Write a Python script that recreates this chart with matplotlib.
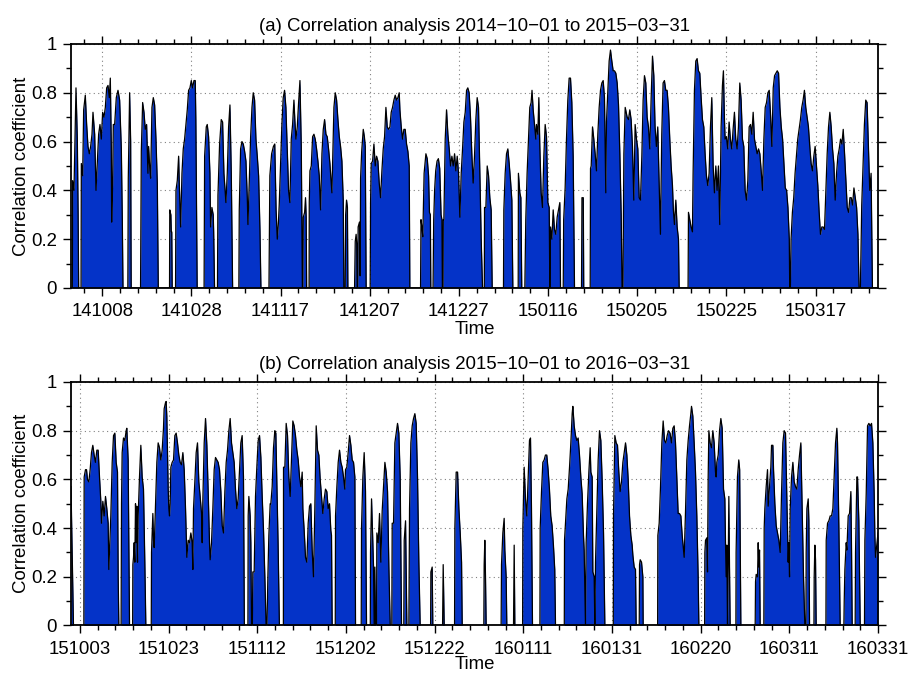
import datetime as dt

import matplotlib
matplotlib.use("Agg")
import matplotlib.pyplot as plt
from matplotlib.ticker import FixedLocator, MultipleLocator

plt.rcParams["font.family"] = ["Liberation Sans", "DejaVu Sans"]
plt.rcParams["font.size"] = 13.4
plt.rcParams["axes.titlesize"] = 13.4
plt.rcParams["axes.labelsize"] = 13.4

# ---------------------------------------------------------------------------
# Datos: días desde el inicio del periodo y coeficiente
# ---------------------------------------------------------------------------

START_A = dt.date(2014, 10, 1)
END_A = dt.date(2015, 3, 31)
START_B = dt.date(2015, 10, 1)
END_B = dt.date(2016, 3, 31)

TITLE_A = "(a) Correlation analysis 2014\u221210\u221201 to 2015\u221203\u221231"
TITLE_B = "(b) Correlation analysis 2015\u221210\u221201 to 2016\u221203\u221231"

DAYS_A = [
    0.0, 0.3, 0.37, 0.67, 1.12, 1.42, 1.6, 1.72, 2.25, 2.32, 2.62, 2.84, 3.21, 3.51, 3.81,
    4.11, 4.41, 4.71, 4.93, 5.31, 5.61, 5.9, 6.2, 6.5, 6.8, 7.1, 7.4, 7.7, 8.0, 8.3, 8.6,
    8.82, 9.04, 9.12, 9.34, 9.49, 9.79, 10.16, 10.54, 10.91, 11.29, 11.51, 11.66,
    12.75, 12.85, 13.15, 13.38, 13.5,
    15.6, 15.77, 16.07, 16.37, 16.66, 16.96, 17.26, 17.41, 17.64, 17.86, 18.16, 18.46,
    18.76, 19.06, 19.36, 19.58,
    22.1, 22.15, 22.4, 22.5, 22.6, 22.7,
    23.45, 23.54, 23.84, 24.14, 24.29, 24.59, 24.89, 25.18, 25.48, 25.78, 26.08, 26.38,
    26.68, 26.98, 27.28, 27.58, 27.87, 28.0, 28.3,
    29.85, 29.97, 30.34, 30.56, 30.86, 31.16, 31.31, 31.46, 31.6, 31.9, 32.0, 32.2,
    32.85, 32.96, 33.33, 33.7, 34.0, 34.3, 34.75, 35.05, 35.35, 35.65, 35.95, 36.25,
    37.65, 37.74, 38.04, 38.34, 38.64, 38.94, 39.24, 39.54, 39.69, 39.99, 40.29, 40.59,
    40.88, 41.18, 41.48, 41.78, 42.08, 42.38, 42.6,
    44.4, 44.6, 45.0, 45.4, 45.7, 46.0, 46.27, 46.5, 46.7, 47.0, 47.3, 47.6, 47.9, 48.2,
    48.5, 48.8, 49.1, 49.4, 49.7, 50.0, 50.2, 50.45, 50.75, 51.05, 51.35, 51.65, 51.9,
    52.0, 52.1, 52.4, 52.6, 52.75, 52.85,
    53.4, 53.44, 53.59, 53.89, 54.19, 54.49, 54.78, 55.08, 55.38, 55.68, 55.98, 56.28,
    56.58, 56.88, 57.18, 57.47, 57.77, 58.07, 58.37, 58.52, 58.67, 58.97, 59.27, 59.57,
    59.87, 60.17, 60.46, 60.76, 61.06, 61.21,
    61.5, 61.6, 61.8, 62.0, 62.1,
    63.6, 63.75, 63.95, 64.1, 64.2, 64.3, 64.4, 64.7, 64.85, 64.95, 65.2, 65.55, 65.8,
    66.0, 66.2,
    67.1, 67.19, 67.34, 67.64, 67.94, 68.24, 68.54, 68.83, 69.13, 69.43, 69.73, 70.03,
    70.33, 70.63, 70.93, 71.23, 71.53, 71.82, 72.12, 72.42, 72.72, 73.02, 73.32, 73.62,
    73.77, 74.07, 74.37, 74.66, 74.96, 75.26, 75.56, 75.86, 76.0,
    78.4, 78.5, 78.7, 78.9, 79.2, 79.6, 79.9, 80.2, 80.4, 80.6, 80.7,
    81.2, 81.35, 81.55, 81.8, 82.1, 82.4, 82.7, 83.0, 83.2, 83.3,
    83.45, 83.5, 83.63, 83.93, 84.23, 84.53, 84.83, 85.13, 85.43, 85.73, 86.03, 86.32,
    86.62, 86.92, 87.22, 87.52, 87.82, 88.12, 88.42, 88.72, 89.0, 89.3, 89.6, 89.9,
    90.2, 90.5, 90.8, 91.1, 91.4, 91.7, 92.0, 92.3,
    92.7, 92.75, 93.05, 93.35, 93.65, 93.94, 94.24, 94.47,
    97.0, 97.08, 97.38, 97.68, 97.98, 98.28, 98.58, 98.88, 99.1,
    100.3, 100.35, 100.67, 100.9, 101.1,
    101.79, 102.0, 102.3, 102.6, 102.9, 103.2, 103.4, 103.66, 103.96, 104.26, 104.4,
    104.7, 104.93, 105.15, 105.45, 105.75, 106.05, 106.35, 106.65, 106.95, 107.25,
    107.4, 107.55, 107.85, 108.15, 108.44, 108.74, 109.04, 109.34, 109.64, 109.79,
    110.4, 110.5, 110.83, 111.13, 111.43, 111.73, 112.03, 112.33, 112.63, 112.93,
    114.5, 114.6, 114.9, 115.0,
    116.45, 116.52, 116.67, 116.97, 117.26, 117.56, 117.86, 118.16, 118.46, 118.76,
    119.06, 119.36, 119.65, 119.95, 120.1, 120.4, 120.7, 121.0, 121.3, 121.6, 121.9,
    122.2, 122.5, 122.8, 123.1, 123.4, 123.6,
    123.8, 124.0, 124.3, 124.74, 125.04, 125.33, 125.63, 125.93, 126.23, 126.53, 126.83,
    127.13, 127.43, 127.73, 128.03, 128.32, 128.62, 128.92, 129.22, 129.52, 129.82,
    130.12, 130.42, 130.72, 131.0, 131.3, 131.6, 131.9, 132.2, 132.5, 132.8, 133.1,
    133.4, 133.7, 134.0, 134.3, 134.6, 134.9, 135.1, 135.35, 135.65, 135.95, 136.25, 136.4,
    138.4, 138.49, 138.79, 139.08, 139.38, 139.53, 139.83, 140.13, 140.43, 140.73, 141.03,
    141.33, 141.63, 141.93, 142.22, 142.52, 142.82, 143.12, 143.42, 143.72, 144.02,
    144.32, 144.62, 144.91, 145.21, 145.51, 145.81, 146.11, 146.33, 146.56, 146.71,
    147.0, 147.3, 147.6, 147.9, 148.2, 148.5, 148.8, 149.1, 149.4, 149.7, 150.0, 150.3,
    150.6, 150.9, 151.2, 151.5, 151.8, 152.1, 152.4, 152.7, 153.0, 153.3, 153.6, 153.9,
    154.2, 154.5, 154.8, 155.1, 155.4, 155.7, 156.0, 156.3, 156.6, 156.9, 157.2, 157.5,
    157.8, 158.1, 158.4, 158.7, 159.0, 159.3, 159.6, 159.9, 160.2, 160.5, 160.8, 161.1,
    161.2, 161.35, 161.5, 161.8, 162.1, 162.4, 162.7, 163.0, 163.3, 163.6, 163.9, 164.2,
    164.5, 164.8, 165.1, 165.4, 165.7, 166.0, 166.3, 166.6, 166.9, 167.2, 167.5, 167.8,
    168.1, 168.4, 168.7, 169.0, 169.3, 169.6, 169.9, 170.2, 170.5, 170.8, 171.1, 171.4,
    171.7, 172.0, 172.3, 172.6, 172.9, 173.2, 173.5, 173.8, 174.1, 174.4, 174.7, 175.0,
    175.3, 175.6, 175.9, 176.2, 176.5, 176.75,
    177.05, 177.35, 177.65, 177.95, 178.25, 178.55, 178.85, 179.15, 179.45, 179.75,
    181.0,
]

CORR_A = [
    0, 0, 0.44, 0.40, 0.82, 0.61, 0.30, 0, 0, 0.51, 0.46, 0.73, 0.79, 0.67, 0.58,
    0.55, 0.58, 0.63, 0.72, 0.63, 0.40, 0.51, 0.63, 0.67, 0.61, 0.72, 0.70, 0.74, 0.82, 0.83, 0.78,
    0.86, 0.58, 0.27, 0.43, 0.67, 0.67, 0.78, 0.81, 0.77, 0.57, 0.28, 0,
    0, 0.45, 0.80, 0.60, 0,
    0, 0.56, 0.76, 0.72, 0.65, 0.67, 0.47, 0.58, 0.50, 0.45, 0.74, 0.78,
    0.75, 0.61, 0.43, 0,
    0, 0.32, 0.30, 0.23, 0.23, 0,
    0, 0.40, 0.44, 0.54, 0.43, 0.25, 0.47, 0.57, 0.61, 0.67, 0.73, 0.81,
    0.82, 0.85, 0.82, 0.85, 0.85, 0.69, 0,
    0, 0.54, 0.66, 0.67, 0.62, 0.47, 0.25, 0.29, 0.33, 0.30, 0.23, 0,
    0, 0.38, 0.59, 0.69, 0.68, 0.47, 0.35, 0.47, 0.66, 0.75, 0.47, 0,
    0, 0.32, 0.57, 0.60, 0.59, 0.56, 0.52, 0.37, 0.26, 0.44, 0.62, 0.74,
    0.80, 0.77, 0.61, 0.54, 0.46, 0.24, 0,
    0, 0.46, 0.55, 0.58, 0.59, 0.32, 0.20, 0.26, 0.34, 0.51, 0.67, 0.78, 0.81, 0.74,
    0.57, 0.40, 0.35, 0.61, 0.67, 0.77, 0.69, 0.61, 0.66, 0.76, 0.85, 0.58, 0,
    0, 0.29, 0.31, 0.37, 0.29, 0,
    0, 0.35, 0.48, 0.50, 0.62, 0.63, 0.61, 0.57, 0.52, 0.46, 0.32, 0.55,
    0.65, 0.69, 0.63, 0.62, 0.57, 0.51, 0.43, 0.39, 0.51, 0.74, 0.80, 0.77,
    0.69, 0.62, 0.58, 0.52, 0.36, 0,
    0, 0.30, 0.36, 0.33, 0,
    0, 0.19, 0.22, 0.18, 0, 0, 0.25, 0.27, 0.05, 0.45, 0.56, 0.65, 0.62,
    0.58, 0,
    0, 0.35, 0.51, 0.52, 0.59, 0.50, 0.54, 0.52, 0.43, 0.37, 0.48, 0.57,
    0.62, 0.74, 0.66, 0.65, 0.66, 0.72, 0.74, 0.77, 0.79, 0.77, 0.78, 0.80,
    0.73, 0.66, 0.61, 0.65, 0.65, 0.59, 0.56, 0.50, 0,
    0, 0.28, 0.25, 0.21, 0.47, 0.55, 0.53, 0.46, 0.31, 0.30, 0,
    0, 0.28, 0.40, 0.48, 0.52, 0.53, 0.49, 0.30, 0.28, 0,
    0, 0.28, 0.28, 0.61, 0.73, 0.63, 0.57, 0.50, 0.54, 0.50, 0.55, 0.48,
    0.54, 0.47, 0.29, 0.47, 0.57, 0.68, 0.72, 0.81, 0.82, 0.80, 0.70, 0.55,
    0.43, 0.54, 0.69, 0.78, 0.74, 0.47, 0.20, 0,
    0, 0.33, 0.33, 0.50, 0.46, 0.37, 0.32, 0,
    0, 0.32, 0.47, 0.55, 0.57, 0.51, 0.44, 0.36, 0,
    0, 0.47, 0.39, 0.37, 0,
    0, 0.28, 0.47, 0.61, 0.74, 0.76, 0.81, 0.73, 0.67, 0.61, 0.67,
    0.63, 0.78, 0.58, 0.39, 0.33, 0.54, 0.67, 0.62, 0.35, 0.33,
    0, 0.25, 0.20, 0.32, 0.24, 0.22, 0.29, 0.32, 0.35, 0,
    0, 0.28, 0.41, 0.61, 0.77, 0.86, 0.86, 0.76, 0.54, 0,
    0, 0.37, 0.37, 0,
    0, 0.49, 0.50, 0.66, 0.61, 0.55, 0.48, 0.63, 0.74, 0.81,
    0.84, 0.85, 0.78, 0.39, 0.68, 0.81, 0.93, 0.975, 0.93, 0.89, 0.89,
    0.88, 0.84, 0.75, 0.55, 0.30, 0,
    0, 0.55, 0.74, 0.70, 0.69, 0.73, 0.69, 0.58, 0.36, 0.67, 0.61,
    0.57, 0.37, 0.36, 0.54, 0.77, 0.87, 0.84, 0.70, 0.66, 0.57,
    0.78, 0.95, 0.87, 0.66, 0.58, 0.66, 0.44, 0.22, 0.63, 0.84, 0.85,
    0.81, 0.81, 0.74, 0.61, 0.50, 0.42, 0.32, 0.26, 0.36, 0.25, 0.20, 0,
    0, 0.31, 0.28, 0.25, 0.23, 0.47, 0.81, 0.93, 0.94, 0.89, 0.88,
    0.78, 0.69, 0.66, 0.55, 0.46, 0.42, 0.47, 0.66, 0.78, 0.50,
    0.39, 0.50, 0.40, 0.50, 0.26, 0.66, 0.83, 0.89, 0.69, 0.61,
    0.62, 0.57, 0.68, 0.61, 0.57, 0.65, 0.72, 0.61, 0.57, 0.66, 0.84, 0.77,
    0.61, 0.58, 0.40, 0.36, 0.44, 0.66, 0.67, 0.63, 0.72, 0.61, 0.58, 0.55,
    0.57, 0.55, 0.48, 0.40, 0.61, 0.74, 0.76, 0.80, 0.81, 0.71, 0.58, 0.82,
    0.87, 0.88, 0.89, 0.88, 0.74, 0.66, 0.61, 0.51, 0.41, 0.40, 0.33, 0.20,
    0, 0, 0.20, 0.31, 0.37, 0.47, 0.54, 0.61, 0.65, 0.69, 0.74, 0.77,
    0.81, 0.74, 0.70, 0.66, 0.58, 0.51, 0.48, 0.54, 0.58, 0.50, 0.42, 0.31,
    0.22, 0.25, 0.25, 0.24, 0.39, 0.55, 0.66, 0.72, 0.66, 0.57, 0.51, 0.36,
    0.47, 0.54, 0.57, 0.61, 0.59, 0.65, 0.55, 0.44, 0.33, 0.31, 0.37, 0.37,
    0.34, 0.41, 0.37, 0.33, 0.22, 0,
    0, 0.34, 0.50, 0.67, 0.77, 0.76, 0.58, 0.40, 0.47, 0,
    0,
]

DAYS_B = [
    0.0, 0.26, 0.56,
    2.9, 2.97, 3.27, 3.5, 3.72, 4.02, 4.32, 4.62, 4.92, 5.22, 5.52, 5.83, 6.13, 6.43,
    6.73, 6.88, 7.18, 7.48, 7.78, 8.08, 8.38, 8.53, 8.68, 8.98, 9.29, 9.59, 9.89, 10.19,
    10.49, 10.64, 10.79,
    11.3, 11.39, 11.54, 11.84, 12.14, 12.44, 12.59, 12.89, 13.2,
    13.9, 13.95, 14.1, 14.25, 14.4, 14.55, 14.7, 14.85, 15.0, 15.15, 15.45, 15.75, 16.05,
    16.35, 16.5, 16.65, 16.88,
    18.1, 18.16, 18.46, 18.61, 18.76, 19.06, 19.36, 19.66, 19.96, 20.26, 20.56, 20.86,
    21.01, 21.31, 21.46, 21.61, 21.77, 21.92, 22.07, 22.22, 22.37, 22.52, 22.82, 23.12,
    23.42, 23.72, 24.02, 24.32, 24.62, 24.92, 25.23, 25.53, 25.83, 26.13, 26.43, 26.73,
    27.03, 27.33, 27.48, 27.63, 27.93, 28.23, 28.53, 28.83, 29.13, 29.44, 29.59, 29.74,
    30.04, 30.34, 30.64, 30.94, 31.24, 31.39, 31.69, 31.99, 32.29, 32.59, 32.89, 33.19,
    33.49, 33.8, 34.1, 34.4, 34.7, 35.0, 35.3, 35.6, 35.9, 36.2, 36.5, 36.8, 37.1, 37.4,
    37.7, 38.0, 38.3, 38.6, 38.9, 39.1,
    39.9, 39.96, 40.11, 40.41, 40.56, 40.71, 40.9, 41.01, 41.31, 41.61, 41.91, 42.22,
    42.52, 42.82, 43.12, 43.42, 43.72, 44.0,
    44.2, 44.4, 44.62, 44.92, 45.07, 45.37, 45.67, 45.97, 46.2, 46.4, 46.7, 47.0,
    47.9, 47.93, 48.23, 48.53, 48.83, 49.13, 49.43, 49.73, 50.03, 50.33, 50.63, 50.94,
    51.24, 51.54, 51.84, 52.14, 52.29, 52.59, 52.89, 53.19, 53.49, 53.79, 54.09, 54.39,
    54.69, 54.99, 55.3, 55.6, 55.9, 56.2, 56.5, 56.8, 57.1, 57.4, 57.7, 58.0, 58.3, 58.6,
    58.75, 58.9,
    59.6, 59.66, 59.96, 60.26, 60.56, 60.86, 61.16, 61.46, 61.76, 61.91, 62.21, 62.51,
    62.82, 63.12, 63.42, 63.72, 64.02, 64.17,
    65.45, 65.52, 65.82, 66.12, 66.42, 66.65,
    67.5, 67.55, 67.78, 68.08, 68.23, 68.38, 68.53, 68.68, 68.9, 68.98, 69.28, 69.58,
    69.88, 70.18, 70.48, 70.79, 71.09, 71.39, 71.69, 71.99,
    72.35, 72.44, 72.74, 73.04, 73.34, 73.64, 73.94, 74.24, 74.54,
    75.05, 75.15, 75.45, 75.75,
    76.2, 76.35, 76.65, 76.95, 77.25, 77.55, 77.85, 78.15, 78.45, 78.75,
    81.1, 81.16, 81.46, 81.6,
    83.8, 83.94, 84.17,
    86.5, 86.57, 86.87, 87.18, 87.48, 87.78, 88.08, 88.23,
    93.1, 93.18, 93.33, 93.48, 93.63,
    97.0, 97.09, 97.39, 97.69, 97.84, 98.14, 98.29,
    99.8, 99.95, 100.1,
    101.85, 101.9, 102.2, 102.5, 102.8, 103.1, 103.4, 103.63, 103.85, 104.08,
    105.75, 105.81, 106.11, 106.41, 106.71, 107.0, 107.3, 107.6, 107.9, 108.2, 108.5,
    108.8, 109.1, 109.27,
    111.25, 111.3, 111.52, 111.83, 112.13, 112.43, 112.73, 113.03, 113.18, 113.48,
    113.78, 114.08, 114.38, 114.68, 114.98, 115.28, 115.58, 115.73, 116.03, 116.18,
    116.48, 116.79, 117.09, 117.24, 117.54, 117.69, 117.99, 118.14, 118.29, 118.59,
    118.89, 119.19, 119.49, 119.8, 120.1, 120.25, 120.4,
    122.3, 122.35, 122.65, 122.95, 123.25, 123.55, 123.85, 124.15, 124.46, 124.76,
    125.06, 125.36, 125.66, 125.96, 126.26, 126.56, 126.71, 127.01, 127.31, 127.46,
    128.15, 128.22, 128.37, 128.67, 128.97, 129.04,
    132.3, 132.35, 132.65, 132.95, 133.25, 133.55, 133.85, 134.15, 134.45, 134.75,
    135.1, 135.43, 135.73, 136.03, 136.33, 136.63, 136.93, 137.23, 137.54, 137.84,
    138.14, 138.29, 138.59, 138.89, 139.19, 139.49, 139.79, 139.94, 140.24, 140.54,
    140.84, 141.14, 141.44, 141.6,
    142.9, 142.95, 143.1, 143.4, 143.55, 143.7, 143.85, 144.15, 144.45, 144.75, 145.05,
    145.35, 145.5, 145.65, 145.96, 146.26, 146.56, 146.86, 147.16, 147.46, 147.61,
    147.76, 147.91, 148.06, 148.21, 148.36, 148.51, 148.66,
    149.95, 150.0, 150.3, 150.6, 150.8, 151.07,
    154.3, 154.38, 154.53, 154.83, 154.98, 155.13, 155.28, 155.43,
    156.25, 156.33, 156.48, 156.78, 157.08, 157.23, 157.53, 157.83, 157.99, 158.29,
    158.44, 158.74, 159.04, 159.34, 159.64, 159.94, 160.24, 160.54, 160.84, 161.14,
    161.44, 161.74, 161.89, 162.05, 162.2, 162.5, 162.8, 163.1, 163.4, 163.7, 164.0,
    164.3, 164.6, 164.9, 165.2, 165.5,
    165.75, 165.8, 165.96, 166.26, 166.41, 166.56,
    167.55, 167.61, 167.76, 167.91, 168.06,
    170.25, 170.32, 170.62, 170.92, 171.22, 171.52, 171.82, 172.12, 172.42, 172.72,
    172.87, 173.17, 173.47,
    174.3, 174.38, 174.53, 174.83, 174.98, 175.28, 175.58, 175.88, 176.03, 176.18,
    176.85, 176.93, 177.23, 177.38, 177.68, 177.99,
    178.95, 179.04, 179.34, 179.64, 179.94, 180.24, 180.54, 180.84, 181.14, 181.29,
    181.44, 182.0,
]

CORR_B = [
    0.57, 0.30, 0,
    0, 0.61, 0.64, 0.64, 0.60, 0.59, 0.64, 0.71, 0.74, 0.70, 0.67, 0.72, 0.72, 0.61,
    0.51, 0.42, 0.51, 0.45, 0.53, 0.48, 0.42, 0.23, 0.30, 0.45, 0.67, 0.78, 0.79, 0.67,
    0.63, 0.20, 0,
    0, 0.50, 0.71, 0.77, 0.76, 0.80, 0.81, 0.68, 0,
    0, 0.25, 0.28, 0.34, 0.26, 0.50, 0.34, 0.49, 0.26, 0.45, 0.61, 0.74, 0.61,
    0.56, 0.41, 0.26, 0,
    0, 0.30, 0.46, 0.35, 0.32, 0.50, 0.67, 0.75, 0.73, 0.68, 0.72, 0.81,
    0.89, 0.915, 0.92, 0.86, 0.70, 0.56, 0.48, 0.45, 0.50, 0.65, 0.67, 0.68,
    0.78, 0.79, 0.75, 0.70, 0.67, 0.66, 0.71, 0.64, 0.48, 0.28, 0.35, 0.34,
    0.38, 0.34, 0.23, 0.48, 0.59, 0.71, 0.75, 0.59, 0.53, 0.46, 0.34, 0.52,
    0.75, 0.85, 0.74, 0.55, 0.34, 0.27, 0.34, 0.48, 0.64, 0.69, 0.68, 0.67,
    0.64, 0.55, 0.41, 0.38, 0.55, 0.67, 0.72, 0.80, 0.85, 0.75, 0.71, 0.67, 0.56, 0.48,
    0.52, 0.64, 0.75, 0.78, 0.61, 0,
    0, 0.45, 0.53, 0.45, 0.34, 0, 0, 0.22, 0.22, 0.53, 0.65, 0.76,
    0.78, 0.69, 0.53, 0.39, 0.20, 0,
    0, 0.20, 0.37, 0.50, 0.50, 0.57, 0.73, 0.80, 0.79, 0.61, 0.34, 0,
    0, 0.65, 0.65, 0.83, 0.78, 0.61, 0.53, 0.68, 0.84, 0.82, 0.78, 0.72,
    0.68, 0.61, 0.57, 0.63, 0.48, 0.39, 0.28, 0.26, 0.42, 0.49, 0.50, 0.31,
    0.20, 0.48, 0.82, 0.72, 0.70, 0.60, 0.53, 0.46, 0.52, 0.56, 0.55, 0.48, 0.50, 0.39,
    0.37, 0,
    0, 0.45, 0.57, 0.67, 0.72, 0.67, 0.65, 0.61, 0.56, 0.64, 0.65, 0.71,
    0.78, 0.74, 0.68, 0.67, 0.61, 0,
    0, 0.40, 0.61, 0.71, 0.55, 0,
    0, 0.30, 0.52, 0.34, 0.24, 0, 0.24, 0, 0, 0.38, 0.34, 0.46,
    0.26, 0.47, 0.57, 0.67, 0.63, 0.55, 0.24, 0,
    0, 0.42, 0.42, 0.75, 0.79, 0.83, 0.79, 0.61, 0,
    0, 0.35, 0.43, 0,
    0, 0.48, 0.75, 0.82, 0.85, 0.87, 0.83, 0.61, 0.26, 0,
    0, 0.22, 0.24, 0,
    0, 0.25, 0,
    0, 0.40, 0.63, 0.63, 0.48, 0.38, 0.26, 0,
    0, 0.25, 0.35, 0.20, 0,
    0, 0.25, 0.38, 0.44, 0.31, 0.20, 0,
    0, 0.33, 0,
    0, 0.40, 0.65, 0.52, 0.45, 0.61, 0.76, 0.77, 0.48, 0,
    0, 0.40, 0.55, 0.67, 0.68, 0.70, 0.70, 0.64, 0.56, 0.45, 0.41,
    0.33, 0.23, 0,
    0, 0.35, 0.42, 0.52, 0.56, 0.65, 0.75, 0.87, 0.90, 0.82,
    0.78, 0.76, 0.77, 0.70, 0.61, 0.54, 0.37, 0.31, 0, 0.34,
    0.50, 0.63, 0.73, 0.63, 0.61, 0.22, 0.20, 0, 0.26, 0.47,
    0.68, 0.80, 0.76, 0.59, 0.38, 0.20, 0,
    0, 0.45, 0.78, 0.75, 0.74, 0.63, 0.55, 0.59, 0.67, 0.71,
    0.75, 0.70, 0.60, 0.45, 0.37, 0.33, 0.29, 0.24, 0.23, 0,
    0, 0.25, 0.27, 0.26, 0.20, 0,
    0, 0.37, 0.42, 0.57, 0.75, 0.84, 0.76, 0.75, 0.78, 0.80,
    0.79, 0.75, 0.81, 0.82, 0.75, 0.61, 0.46, 0.46, 0.45, 0.37,
    0.31, 0.28, 0.47, 0.68, 0.76, 0.82, 0.87, 0.90, 0.86, 0.75,
    0.63, 0.45, 0.20, 0,
    0, 0.30, 0.35, 0.36, 0.22, 0.61, 0.80, 0.75, 0.73, 0.80, 0.75,
    0.63, 0.61, 0.67, 0.70, 0.80, 0.85, 0.81, 0.56, 0.52, 0.34,
    0.20, 0.33, 0, 0.23, 0.53, 0.24, 0,
    0, 0.30, 0.61, 0.68, 0.64, 0,
    0, 0.18, 0.21, 0.20, 0.34, 0.24, 0.31, 0,
    0, 0.40, 0.48, 0.57, 0.64, 0.49, 0.57, 0.65, 0.74, 0.74,
    0.64, 0.50, 0.41, 0.38, 0.35, 0.30, 0.54, 0.75, 0.80, 0.79,
    0.52, 0.26, 0.34, 0.20, 0.48, 0.61, 0.67, 0.59, 0.57, 0.56, 0.64,
    0.70, 0.75, 0.48, 0.20, 0,
    0, 0.30, 0.48, 0.52, 0.43, 0,
    0, 0.20, 0.33, 0.27, 0,
    0, 0.35, 0.42, 0.43, 0.45, 0.45, 0.48, 0.61, 0.75, 0.81,
    0.75, 0.41, 0,
    0, 0.10, 0.23, 0.34, 0.31, 0.45, 0.46, 0.55, 0.31, 0,
    0, 0.30, 0.61, 0.61, 0.43, 0,
    0, 0.35, 0.54, 0.82, 0.83, 0.82, 0.83, 0.75, 0.54, 0.37,
    0.28, 0.38,
]

FILL_COLOR = "#0433C8"
Y_TICKS = [0, 0.2, 0.4, 0.6, 0.8, 1.0]
Y_TICK_LABELS = ["0", "0.2", "0.4", "0.6", "0.8", "1"]


def draw_panel(ax, days, corr, start, end, first_tick, title, time_pad):
    span = (end - start).days
    ax.fill_between(days, corr, 0, color=FILL_COLOR, linewidth=0, zorder=2)
    ax.plot(days, corr, color="black", linewidth=0.9, zorder=3)

    ax.set_xlim(0, span)
    ax.set_ylim(0, 1)

    major = list(range(first_tick, span + 1, 20))
    ax.set_xticks(major)
    ax.set_xticklabels(
        [(start + dt.timedelta(days=d)).strftime("%y%m%d") for d in major]
    )
    ax.xaxis.set_minor_locator(FixedLocator(list(range(first_tick % 4, span + 1, 4))))
    ax.set_yticks(Y_TICKS)
    ax.set_yticklabels(Y_TICK_LABELS)
    ax.yaxis.set_minor_locator(MultipleLocator(0.1))

    ax.tick_params(which="both", direction="out", top=True, right=True,
                   labeltop=False, labelright=False, width=1.0)
    ax.tick_params(which="major", length=6, pad=4)
    ax.tick_params(which="minor", length=3.5)
    ax.tick_params(axis="x", which="major", pad=5)

    ax.set_axisbelow(True)
    ax.grid(True, which="major", color="#808080", linestyle=(0, (1, 3)),
            linewidth=0.8, zorder=0)
    for sp in ax.spines.values():
        sp.set_linewidth(1.3)
        sp.set_zorder(4)

    ax.set_xlabel("Time", labelpad=time_pad)
    ax.set_ylabel("Correlation coefficient", labelpad=1)
    ax.set_title(title, pad=9)


fig = plt.figure(figsize=(9.09, 6.73), dpi=100)
ax_a = fig.add_axes([0.0781, 0.5721, 0.8878, 0.3626])
ax_b = fig.add_axes([0.0781, 0.0706, 0.8878, 0.3618])

draw_panel(ax_a, DAYS_A, CORR_A, START_A, END_A, 7, TITLE_A, 0.5)
draw_panel(ax_b, DAYS_B, CORR_B, START_B, END_B, 2, TITLE_B, -1.5)

fig.savefig("out.png", dpi=100)
